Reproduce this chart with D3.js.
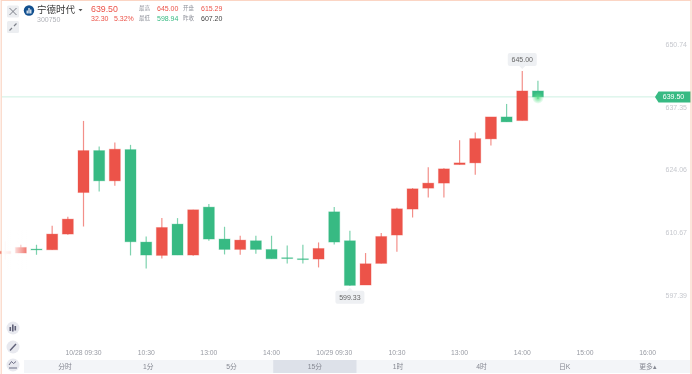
<!DOCTYPE html>
<html>
<head>
<meta charset="utf-8">
<script src="https://cdn.jsdelivr.net/npm/d3@7"></script>
<style>
  html, body { margin: 0; padding: 0; background: #fff; overflow: hidden; }
  svg { display: block; filter: blur(0.3px); }
  text { font-family: "Liberation Sans", "Noto Sans CJK SC", sans-serif; }
</style>
</head>
<body>
<svg id="chart"></svg>
<script>
// 15 minute candles, one entry per slot
const opens = [606.16, 606.31, 607.15, 607.00, 610.34, 619.17, 628.09, 621.65, 628.30, 608.64, 605.80, 612.46, 605.88, 616.07, 609.28, 607.07, 608.92, 607.07, 605.31, 605.09, 605.03, 615.07, 608.92, 599.51, 604.10, 610.13, 615.65, 620.10, 621.17, 625.11, 625.47, 630.57, 635.24, 634.46, 640.76];
const closes = [606.69, 607.50, 607.00, 610.34, 613.52, 628.09, 621.65, 628.38, 608.70, 605.88, 611.74, 605.88, 615.50, 609.28, 607.07, 609.06, 607.07, 605.09, 605.16, 604.94, 607.28, 608.64, 599.43, 604.03, 609.83, 615.71, 619.96, 621.17, 624.20, 625.47, 630.63, 635.24, 634.18, 640.76, 639.50];
const highs = [608.77, 608.07, 608.07, 612.10, 614.01, 634.39, 628.94, 629.78, 629.30, 609.83, 613.73, 613.73, 615.50, 616.71, 611.89, 609.98, 609.98, 609.98, 607.92, 608.07, 608.56, 616.07, 611.04, 606.31, 610.55, 615.92, 620.10, 624.56, 624.35, 630.29, 631.91, 635.24, 638.00, 645.00, 642.95];
const lows = [604.88, 606.31, 605.94, 607.00, 610.19, 611.95, 619.38, 620.59, 605.80, 603.04, 605.16, 605.88, 605.73, 608.92, 606.01, 605.94, 606.16, 605.09, 604.10, 604.10, 603.25, 608.13, 599.33, 599.51, 604.10, 606.58, 613.86, 618.11, 618.11, 625.11, 622.93, 629.15, 634.18, 634.46, 639.06];

const priceTicks = [650.74, 637.35, 624.06, 610.67, 597.39];
const timeSlots = [5, 9, 13, 17, 21, 25, 29, 33, 37, 41];
const timeLabels = ['10/28 09:30', '10:30', '13:00', '14:00', '10/29 09:30', '10:30', '13:00', '14:00', '15:00', '16:00'];
const periods = ['分时', '1分', '5分', '15分', '1时', '4时', '日K', '更多▴'];
const activePeriod = '15分';

const lastPrice = 639.50;
const highMark = { slot: 33, price: 645.00 };
const lowMark = { slot: 22, price: 599.33 };

const quoteRows = [
  ['最高', '645.00', '#ec5349', '开盘', '615.29', '#ec5349'],
  ['最低', '598.94', '#37ba83', '昨收', '607.20', '#444']
];

const width = 692;
const height = 374;
const red = '#ec5349';
const green = '#37ba83';

const svg = d3.select('#chart').attr('width', width).attr('height', height);

const x = d3.scaleBand().domain(d3.range(42)).range([-2.68, 655.46]);
const y = d3.scaleLinear().domain([650.74, 597.39]).range([44, 295]);
const cx = i => x(i) + x.bandwidth() / 2;

// last price line goes under the candles
svg.append('line')
  .attr('x1', 2).attr('x2', 656)
  .attr('y1', y(lastPrice)).attr('y2', y(lastPrice))
  .style('stroke', '#cdf0e2').style('stroke-width', 1);

const defs = svg.append('defs');
const glow = defs.append('radialGradient').attr('id', 'glow');
glow.append('stop').attr('offset', '0%').attr('stop-color', '#5be08a').attr('stop-opacity', 0.9);
glow.append('stop').attr('offset', '100%').attr('stop-color', '#5be08a').attr('stop-opacity', 0);
const fade = defs.append('linearGradient').attr('id', 'fade');
fade.append('stop').attr('offset', '0%').attr('stop-color', '#fff').attr('stop-opacity', 1);
fade.append('stop').attr('offset', '45%').attr('stop-color', '#fff').attr('stop-opacity', 0.8);
fade.append('stop').attr('offset', '100%').attr('stop-color', '#fff').attr('stop-opacity', 0);

const candles = svg.selectAll('g.candle')
  .data(opens.map((o, i) => ({ i, o, c: closes[i], h: highs[i], l: lows[i] })))
  .enter()
  .append('g')
  .attr('class', 'candle');

candles.append('line')
  .attr('x1', d => cx(d.i)).attr('x2', d => cx(d.i))
  .attr('y1', d => y(d.h)).attr('y2', d => y(d.l))
  .style('stroke', d => d.c >= d.o ? red : green)
  .style('stroke-opacity', 0.65)
  .style('stroke-width', 1.2);

candles.append('rect')
  .attr('x', d => cx(d.i) - 5.5)
  .attr('width', 11)
  .attr('y', d => y(Math.max(d.o, d.c)))
  .attr('height', d => Math.max(0.8, Math.abs(y(d.o) - y(d.c))))
  .style('fill', d => d.c >= d.o ? red : green)
  .style('stroke', d => d.c >= d.o ? red : green)
  .style('stroke-opacity', 0.3)
  .style('stroke-width', 1);

svg.append('circle')
  .attr('cx', cx(34)).attr('cy', y(lastPrice) + 1).attr('r', 6)
  .style('fill', 'url(#glow)');

// oldest candles fade out towards the left edge
svg.append('rect')
  .attr('x', 2).attr('y', 230).attr('width', 29).attr('height', 40)
  .style('fill', 'url(#fade)');

// y axis
const yAxis = svg.append('g')
  .attr('transform', 'translate(687,0)')
  .call(d3.axisLeft(y).tickValues(priceTicks).tickSize(0).tickPadding(0).tickFormat(d3.format('.2f')));
yAxis.select('.domain').remove();
yAxis.selectAll('text').style('font-size', '7px').style('fill', '#c6c8ce')
  .style('font-family', '"Liberation Sans", sans-serif');

// x axis
const xAxis = svg.append('g')
  .attr('transform', 'translate(0,352.5)')
  .call(d3.axisBottom(x).tickValues(timeSlots).tickSize(0).tickPadding(0)
    .tickFormat(d => timeLabels[timeSlots.indexOf(d)]));
xAxis.select('.domain').remove();
xAxis.selectAll('text').style('font-size', '6.8px').style('fill', '#989ba3')
  .style('font-family', '"Liberation Sans", sans-serif')
  .attr('dy', '0.32em').attr('y', 0);

// period tabs
const tabX = d3.scalePoint().domain(periods).range([65, 648]);
const tabStep = tabX.step();
svg.append('rect').attr('x', 24).attr('y', 360).attr('width', 666).attr('height', 13).style('fill', '#f3f5f8');
svg.append('rect')
  .attr('x', tabX(activePeriod) - tabStep / 2).attr('y', 360)
  .attr('width', tabStep).attr('height', 13)
  .style('fill', '#dde1e9');
svg.selectAll('text.tab')
  .data(periods)
  .enter()
  .append('text')
  .attr('class', 'tab')
  .attr('x', d => tabX(d))
  .attr('y', 366.5)
  .attr('dy', '0.35em')
  .attr('text-anchor', 'middle')
  .style('font-size', '6.8px')
  .style('fill', '#858892')
  .text(d => d);

// last price tag
const tagY = y(lastPrice);
svg.append('path')
  .attr('d', `M655,${tagY} L658.5,${tagY - 5.5} L691,${tagY - 5.5} L691,${tagY + 5.5} L658.5,${tagY + 5.5} Z`)
  .style('fill', green);
svg.append('text')
  .attr('x', 673.5).attr('y', tagY).attr('dy', '0.35em')
  .attr('text-anchor', 'middle')
  .style('font-size', '7px').style('fill', '#fff')
  .text(d3.format('.2f')(lastPrice));

// high and low callouts
function callout(mark, above) {
  const px = cx(mark.slot);
  const py = y(mark.price);
  const dir = above ? -1 : 1;
  const top = above ? py - 18 : py + 5;
  svg.append('rect')
    .attr('x', px - 14.5).attr('y', top).attr('width', 29).attr('height', 13).attr('rx', 2)
    .style('fill', '#eef0f3');
  svg.append('path')
    .attr('d', `M${px - 3},${py + dir * 5} L${px},${py + dir * 2} L${px + 3},${py + dir * 5} Z`)
    .style('fill', '#eef0f3');
  svg.append('text')
    .attr('x', px).attr('y', top + 6.5).attr('dy', '0.35em')
    .attr('text-anchor', 'middle')
    .style('font-size', '7px').style('fill', '#666')
    .text(d3.format('.2f')(mark.price));
}
callout(highMark, true);
callout(lowMark, false);

// header
function addText(tx, ty, str, size, color, anchor) {
  return svg.append('text')
    .attr('x', tx).attr('y', ty).attr('dy', '0.35em')
    .attr('text-anchor', anchor || 'start')
    .style('font-size', size + 'px').style('fill', color)
    .text(str);
}
addText(37, 10, '宁德时代', 9.5, '#333');
svg.append('path').attr('d', 'M78.5,9 L82.5,9 L80.5,11.2 Z').style('fill', '#555');
addText(37, 20, '300750', 7, '#b0b2b8');
addText(91, 8.5, '639.50', 8.8, red);
addText(91, 18.3, '32.30', 7, red);
addText(114, 18.3, '5.32%', 7, red);
quoteRows.forEach((row, r) => {
  const ry = 8.3 + r * 10;
  addText(139, ry, row[0], 5.5, '#8f929b');
  addText(157, ry, row[1], 7, row[2]);
  addText(183, ry, row[3], 5.5, '#8f929b');
  addText(201, ry, row[4], 7, row[5]);
});

svg.append('circle').attr('cx', 29).attr('cy', 10.5).attr('r', 5.2).style('fill', '#12508f');
[[26.6, 10.5, 1.2, 3], [28.4, 8, 1.2, 5.5], [30.2, 9.5, 1.2, 4]].forEach(b => {
  svg.append('rect').attr('x', b[0]).attr('y', b[1]).attr('width', b[2]).attr('height', b[3]).style('fill', '#fff');
});

// top left buttons
[[7, 5.5], [7, 21]].forEach(b => {
  svg.append('rect').attr('x', b[0]).attr('y', b[1]).attr('width', 12).attr('height', 12).attr('rx', 1.5).style('fill', '#eceef1');
});
svg.append('path').attr('d', 'M9.5,8 L16.5,15 M16.5,8 L9.5,15').style('stroke', '#7b7e88').style('stroke-width', 1).style('fill', 'none');
svg.append('path').attr('d', 'M9.5,30.5 L12,28 M14,26 L16.5,23.5').style('stroke', '#7b7e88').style('stroke-width', 1.2).style('fill', 'none');

// bottom left tools
[328, 347, 365].forEach(cy => {
  svg.append('circle').attr('cx', 13).attr('cy', cy).attr('r', 6.5).style('fill', '#e8e9ef');
});
[[9.5, 327, 1.6, 4], [12, 324.5, 1.6, 7], [14.5, 326, 1.6, 4.5]].forEach(b => {
  svg.append('rect').attr('x', b[0]).attr('y', b[1]).attr('width', b[2]).attr('height', b[3]).style('fill', '#5f6078');
});
svg.append('path').attr('d', 'M10,350.5 L16,344').style('stroke', '#5f6078').style('stroke-width', 1.4).style('fill', 'none');
svg.append('path').attr('d', 'M9,365 L11.5,361.5 L13.5,363.5 L16,361.5 M9,368 L17,368').style('stroke', '#5f6078').style('stroke-width', 0.9).style('fill', 'none');

// screenshot frame
svg.append('path')
  .attr('d', `M1.2,374 L1.2,0.5 L691,0.5 L691,374`)
  .style('fill', 'none').style('stroke', '#fbd5c4').style('stroke-width', 1.2);
</script>
</body>
</html>
